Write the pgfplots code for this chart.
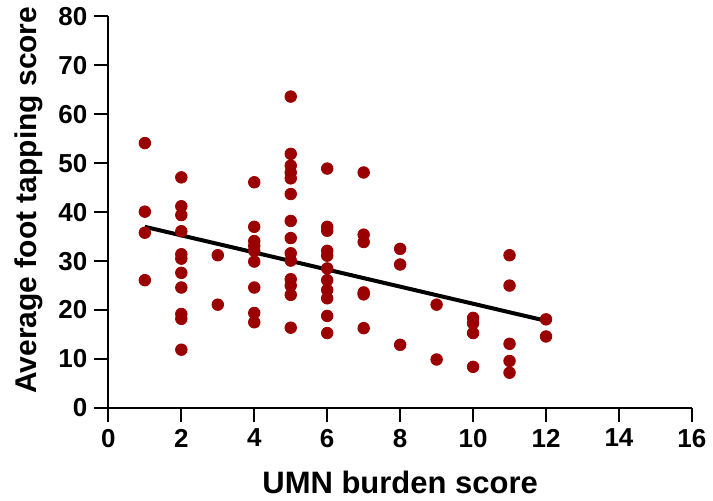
\documentclass[border=0pt]{standalone}
\usepackage{fontspec}
\setmainfont{Liberation Sans}
\usepackage{pgfplots}
\pgfplotsset{compat=1.18}
\definecolor{dotred}{RGB}{155,0,0}

\begin{document}
\begin{tikzpicture}
\begin{axis}[
  scale only axis,
  width=292pt, height=196pt,
  xmin=0, xmax=16, ymin=0, ymax=80,
  xtick={0,2,...,16}, ytick={0,10,...,80},
  axis lines=left,
  axis line style={line width=1.1pt, -},
  tick style={line width=1.1pt, black},
  tick align=outside,
  major tick length=7pt,
  /pgf/number format/assume math mode=true,
  tick label style={font=\fontsize{13}{15}\selectfont\bfseries},
  xlabel={UMN burden score},
  ylabel={Average foot tapping score},
  xlabel style={font=\fontsize{15.5}{18}\selectfont\bfseries, yshift=-5pt},
  ylabel style={font=\fontsize{15}{17}\selectfont\bfseries, yshift=1pt, xshift=6pt},
  clip=false,
]
\addplot[only marks, mark=*, mark size=2.9pt, mark options={fill=dotred, draw=dotred}] coordinates {
  (1,54.1) (1,40.1) (1,35.8) (1,26.1)
  (2,47.1) (2,41.2) (2,39.4) (2,36.1) (2,31.4) (2,30.5) (2,27.6) (2,24.6) (2,19.2) (2,18.2) (2,11.9)
  (3,31.2) (3,21.1)
  (4,46.1) (4,37.0) (4,34.1) (4,33.1) (4,32.1) (4,29.9) (4,24.6) (4,19.4) (4,17.5)
  (5,63.6) (5,51.9) (5,49.5) (5,48.1) (5,46.9) (5,43.7) (5,38.2) (5,34.7) (5,31.6) (5,30.1) (5,26.3) (5,25.0) (5,23.1) (5,16.4)
  (6,48.9) (6,37.0) (6,36.2) (6,32.1) (6,31.1) (6,28.5) (6,26.1) (6,24.1) (6,22.4) (6,18.8) (6,15.3)
  (7,48.1) (7,35.4) (7,33.9) (7,23.6) (7,23.2) (7,16.3)
  (8,32.5) (8,29.3) (8,12.9)
  (9,21.1) (9,9.9)
  (10,18.4) (10,17.3) (10,15.3) (10,8.4)
  (11,31.2) (11,25.0) (11,13.1) (11,9.6) (11,7.2)
  (12,18.1) (12,14.6)
};
\addplot[black, line width=2pt] coordinates {(1,37.0) (12,17.8)};
\end{axis}
% small white margin on the left, as in the original
\path ([xshift=-4pt]current bounding box.west);
\end{tikzpicture}
\end{document}
